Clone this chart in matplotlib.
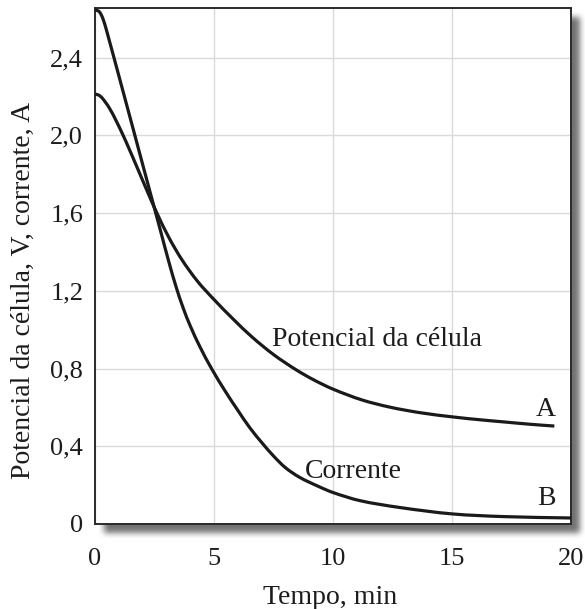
import numpy as np
import matplotlib
matplotlib.use("Agg")
import matplotlib.pyplot as plt
from matplotlib.path import Path
from matplotlib.patches import PathPatch

# ---- data ----
t_corrente = [0, 0.15, 0.25, 0.35, 0.45, 0.6, 0.8, 1.2, 1.6, 2.0, 2.4, 2.8, 3.1, 3.4, 3.7,
              4.0, 4.4, 4.9, 5.5, 6.0, 6.5, 7.0, 7.5, 8.0, 8.6, 9.36, 10.0, 11.14,
              12.8, 15.0, 17.2, 20.0]
i_corrente = [2.645, 2.639, 2.623, 2.594, 2.555, 2.488, 2.398, 2.216, 2.034, 1.851, 1.669,
              1.487, 1.350, 1.223, 1.113, 1.020, 0.914, 0.799, 0.678, 0.585, 0.496, 0.420,
              0.350, 0.290, 0.240, 0.195, 0.162, 0.12, 0.085, 0.052, 0.038, 0.031]

t_potencial = [0, 0.15, 0.3, 0.6, 0.9, 1.2, 1.4, 1.8, 2.2, 2.6, 3.1, 3.64, 4.3, 5.0, 5.8,
               6.6, 7.5, 8.43, 9.2, 10.0, 11.2, 12.4, 13.7, 15.1, 16.2, 17.2, 18.3, 19.3]
v_potencial = [2.212, 2.207, 2.192, 2.141, 2.072, 1.995, 1.94, 1.826, 1.711, 1.60, 1.475,
               1.362, 1.250, 1.155, 1.055, 0.962, 0.872, 0.795, 0.741, 0.694, 0.639, 0.601,
               0.572, 0.550, 0.536, 0.525, 0.513, 0.504]

x_ticks = [0, 5, 10, 15, 20]
x_ticklabels = ["0", "5", "10", "15", "20"]
y_ticks = [0, 0.4, 0.8, 1.2, 1.6, 2.0, 2.4]
y_ticklabels = ["0", "0,4", "0,8", "1,2", "1,6", "2,0", "2,4"]

xlabel = "Tempo, min"
ylabel = "Potencial da célula, V, corrente, A"
label_potencial = "Potencial da célula"
label_corrente = "Corrente"


def smooth_path(xs, ys):
    """Cubic Hermite curve (in x) through the given points, as Bezier segments."""
    x = np.asarray(xs, float)
    y = np.asarray(ys, float)
    n = len(x)
    m = np.empty(n)
    m[0] = (y[1] - y[0]) / (x[1] - x[0])
    m[-1] = (y[-1] - y[-2]) / (x[-1] - x[-2])
    m[1:-1] = (y[2:] - y[:-2]) / (x[2:] - x[:-2])
    verts = [(x[0], y[0])]
    codes = [Path.MOVETO]
    for i in range(n - 1):
        h = x[i + 1] - x[i]
        verts += [(x[i] + h / 3, y[i] + m[i] * h / 3),
                  (x[i + 1] - h / 3, y[i + 1] - m[i + 1] * h / 3),
                  (x[i + 1], y[i + 1])]
        codes += [Path.CURVE4] * 3
    return Path(verts, codes)


# ---- figure ----
W, H = 585, 609
fig = plt.figure(figsize=(W / 100, H / 100), dpi=100)
plt.rcParams['font.family'] = ['Liberation Serif', 'DejaVu Serif']
txt_color = '#1c1c1c'

# axes box in pixels (top-origin)
L, R, T, B = 95, 571, 8, 524

# drop shadow (style only)
sh = np.zeros((H, W))
off = 9
sh[T + off:B + off, L + off:R + off] = 1.0
def box_blur(a, r):
    k = np.ones(2 * r + 1) / (2 * r + 1)
    a = np.apply_along_axis(lambda mm: np.convolve(mm, k, mode='same'), 0, a)
    a = np.apply_along_axis(lambda mm: np.convolve(mm, k, mode='same'), 1, a)
    return a
sh = box_blur(box_blur(sh, 3), 3)
rgba = np.zeros((H, W, 4))
rgba[..., 3] = sh * 0.55
bg = fig.add_axes([0, 0, 1, 1], zorder=0)
bg.imshow(rgba, extent=[0, W, H, 0], interpolation='bilinear')
bg.set_xlim(0, W); bg.set_ylim(H, 0)
bg.axis('off')

ax = fig.add_axes([L / W, 1 - B / H, (R - L) / W, (B - T) / H], zorder=1)
ax.set_facecolor('white')
ax.set_xlim(0, 20)
ax.set_ylim(0, 2.655)

for xs, ys in [(t_corrente, i_corrente), (t_potencial, v_potencial)]:
    ax.add_patch(PathPatch(smooth_path(xs, ys), facecolor='none', edgecolor='#1a1a1a',
                           lw=2.3, capstyle='butt', zorder=3))

ax.set_xticks(x_ticks)
ax.set_xticklabels(x_ticklabels)
ax.set_yticks(y_ticks)
ax.set_yticklabels(y_ticklabels)
ax.tick_params(axis='both', length=0, labelsize=19, labelcolor=txt_color)
ax.tick_params(axis='x', pad=17)
ax.tick_params(axis='y', pad=8.5)
ax.grid(True, color='#dadada', lw=1.0, zorder=0)
ax.set_axisbelow(True)
for s in ax.spines.values():
    s.set_color('#2a2a2a')
    s.set_linewidth(1.4)

fs = 20
ax.text(7.45, 0.95, label_potencial, fontsize=fs, color=txt_color, ha='left', va='center', zorder=4)
ax.text(8.8, 0.27, label_corrente, fontsize=fs, color=txt_color, ha='left', va='center', zorder=4)
ax.text(18.95, 0.59, "A", fontsize=fs, color=txt_color, ha='center', va='center', zorder=4)
ax.text(18.95, 0.13, "B", fontsize=fs, color=txt_color, ha='center', va='center', zorder=4)

fig.text(330 / W, 1 - 597 / H, xlabel, fontsize=fs, color=txt_color, ha='center', va='center')
fig.text(23 / W, 1 - 290 / H, ylabel, fontsize=fs, color=txt_color, ha='center', va='center', rotation=90)

fig.savefig("out.png", dpi=100)
